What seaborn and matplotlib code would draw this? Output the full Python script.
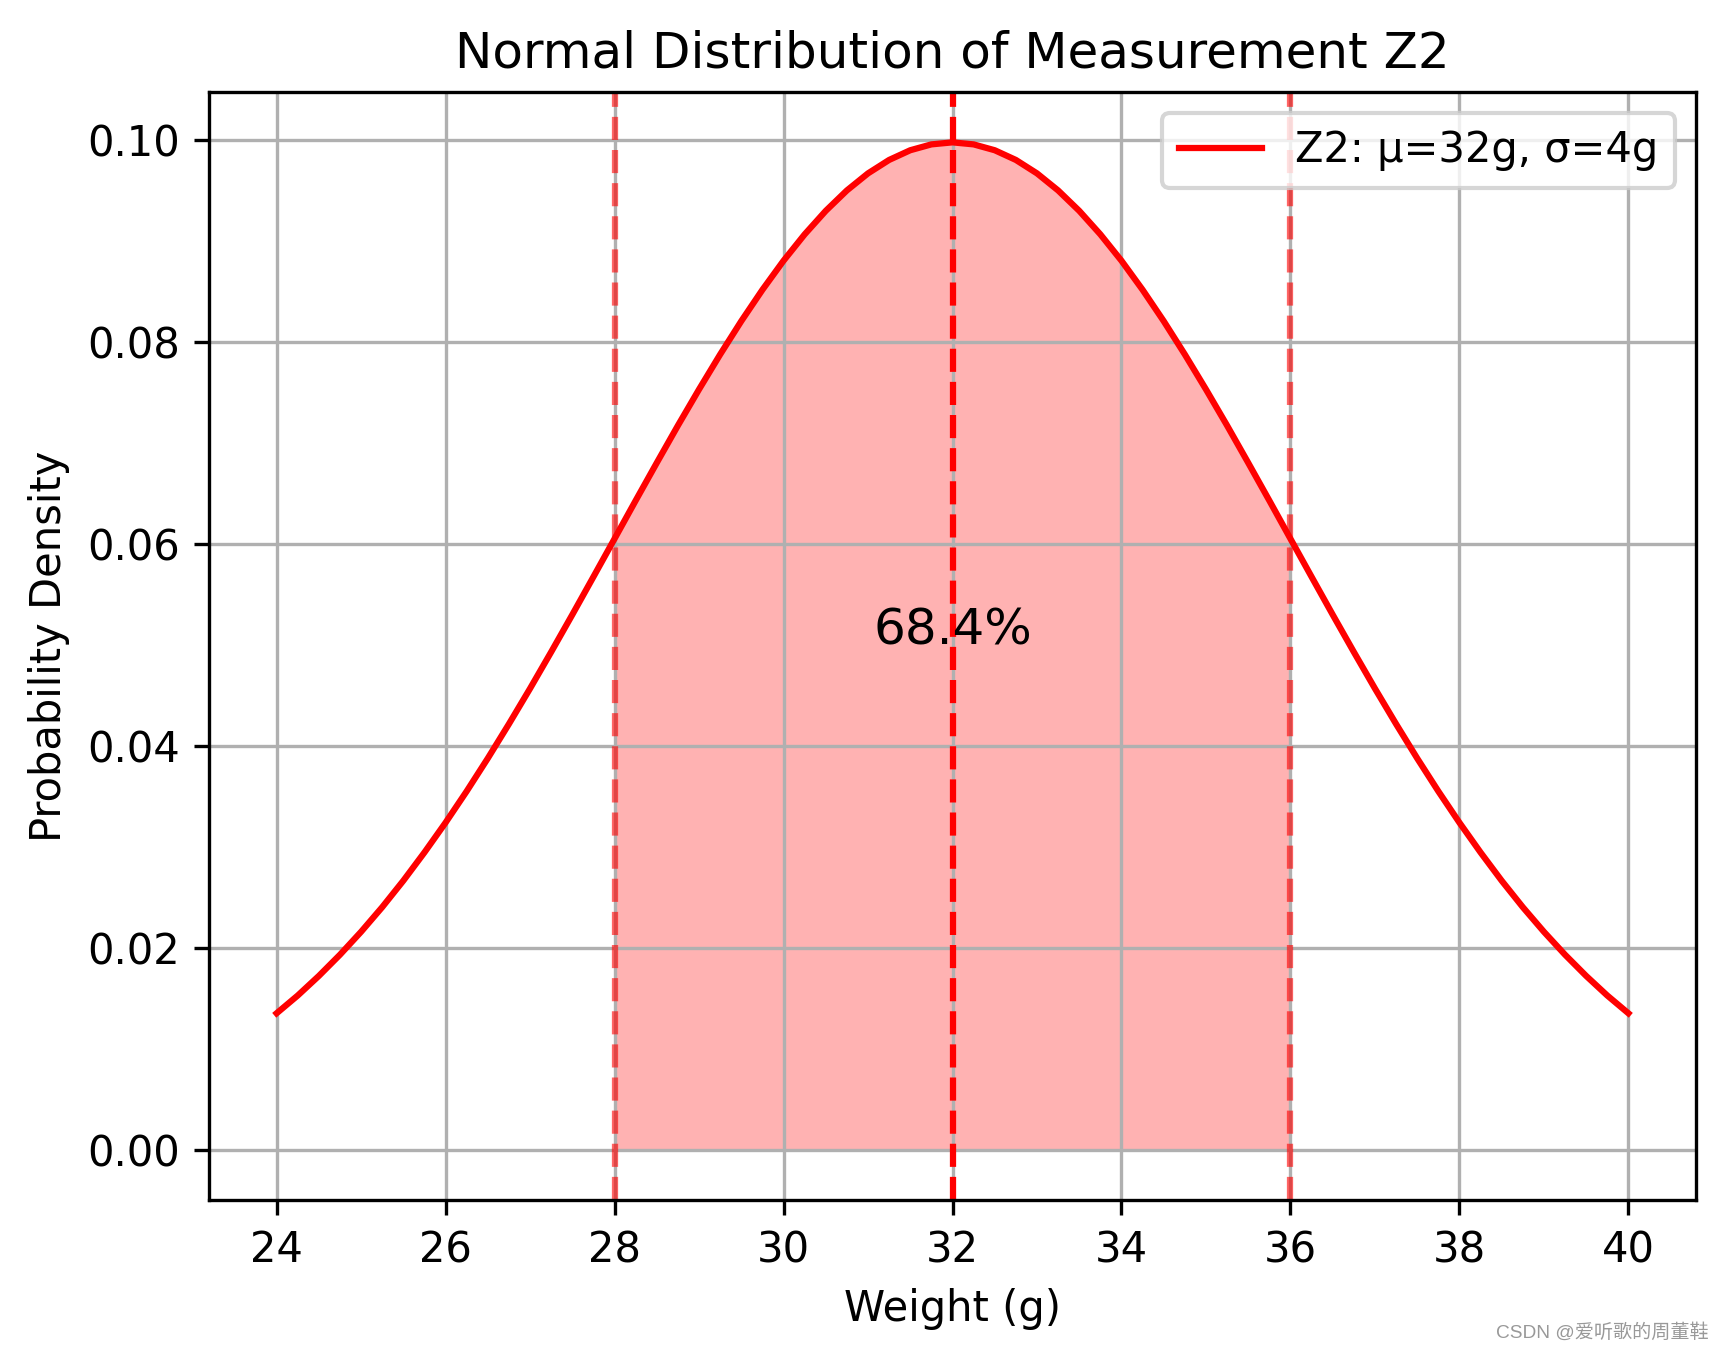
import matplotlib
matplotlib.use("Agg")
import matplotlib.pyplot as plt
import seaborn as sns

# Weight grid (g) and density values
weight = [24.0, 24.25, 24.5, 24.75, 25.0, 25.25, 25.5, 25.75,
          26.0, 26.25, 26.5, 26.75, 27.0, 27.25, 27.5, 27.75,
          28.0, 28.25, 28.5, 28.75, 29.0, 29.25, 29.5, 29.75,
          30.0, 30.25, 30.5, 30.75, 31.0, 31.25, 31.5, 31.75,
          32.0,
          32.25, 32.5, 32.75, 33.0, 33.25, 33.5, 33.75, 34.0,
          34.25, 34.5, 34.75, 35.0, 35.25, 35.5, 35.75, 36.0,
          36.25, 36.5, 36.75, 37.0, 37.25, 37.5, 37.75, 38.0,
          38.25, 38.5, 38.75, 39.0, 39.25, 39.5, 39.75, 40.0]
density = [0.01350, 0.01526, 0.01720, 0.01930, 0.02157, 0.02401, 0.02663, 0.02943,
           0.03238, 0.03549, 0.03875, 0.04215, 0.04566, 0.04928, 0.05297, 0.05672,
           0.06049, 0.06427, 0.06801, 0.07170, 0.07528, 0.07874, 0.08204, 0.08514,
           0.08802, 0.09063, 0.09296, 0.09498, 0.09667, 0.09800, 0.09896, 0.09954,
           0.09974,
           0.09954, 0.09896, 0.09800, 0.09667, 0.09498, 0.09296, 0.09063, 0.08802,
           0.08514, 0.08204, 0.07874, 0.07528, 0.07170, 0.06801, 0.06427, 0.06049,
           0.05672, 0.05297, 0.04928, 0.04566, 0.04215, 0.03875, 0.03549, 0.03238,
           0.02943, 0.02663, 0.02401, 0.02157, 0.01930, 0.01720, 0.01526, 0.01350]

mu = 32
sigma = 4
band_lo, band_hi = 28, 36
band_label = "68.4%"
curve_label = "Z2: μ=32g, σ=4g"

fig = plt.figure(figsize=(1726 / 300, 1357 / 300), dpi=300)
ax = fig.add_axes([209 / 1726, 1 - 1200 / 1357, (1696 - 209) / 1726, (1200 - 92) / 1357])

# Curve
sns.lineplot(x=weight, y=density, color="red", linewidth=1.5, label=curve_label, ax=ax)

# Shade the +/- 1 sigma band
band_x = [w for w in weight if band_lo <= w <= band_hi]
band_y = [d for w, d in zip(weight, density) if band_lo <= w <= band_hi]
ax.fill_between(band_x, band_y, color="red", alpha=0.3, linewidth=0)

ax.axvline(mu, color="red", linestyle="--", linewidth=1.5)
ax.axvline(band_lo, color="red", linestyle="--", linewidth=1.5, alpha=0.6)
ax.axvline(band_hi, color="red", linestyle="--", linewidth=1.5, alpha=0.6)

ax.text(mu, 0.05, band_label, ha="center", fontsize=12)

ax.set_title("Normal Distribution of Measurement Z2", fontsize=12)
ax.set_xlabel("Weight (g)")
ax.set_ylabel("Probability Density")
ax.grid(True)
ax.legend(loc="upper right")

# watermark
fig.text(0.99, 0.018, "CSDN @爱听歌的周董鞋", ha="right", va="center",
         fontsize=4.6, color="#999999",
         family=["Liberation Sans", "Noto Sans CJK SC"])

fig.savefig("out.png", dpi=300)
